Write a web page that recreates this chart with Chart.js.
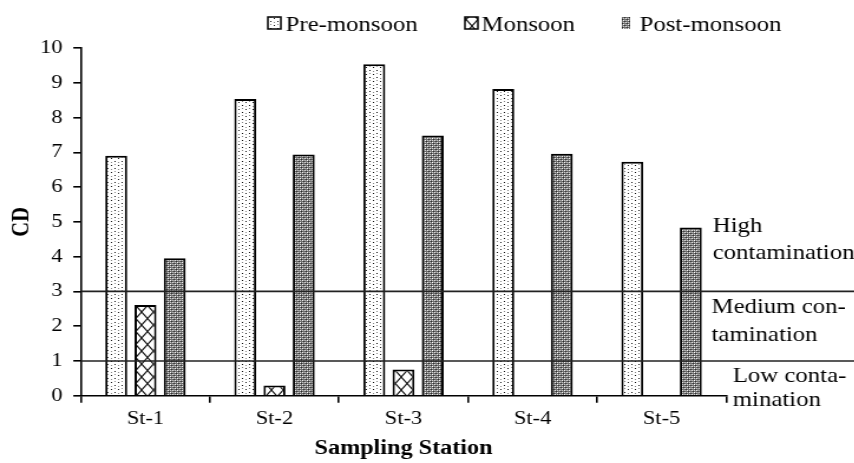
<!DOCTYPE html>
<html>
<head>
<meta charset="utf-8">
<script src="https://cdn.jsdelivr.net/npm/chart.js@4.4.1/dist/chart.umd.min.js"></script>
<style>
  html, body { margin: 0; padding: 0; background: #fff; overflow: hidden; }
  /* the source figure is stretched horizontally, so draw narrow and stretch */
  #wrap { position: relative; width: 724px; height: 463px; transform: scaleX(1.18); transform-origin: 0 0; }
</style>
</head>
<body>
<div id="wrap"><canvas id="chart"></canvas></div>
<script>
// ---- data ----
const stations = ["St-1", "St-2", "St-3", "St-4", "St-5"];
const seriesNames = ["Pre-monsoon", "Monsoon", "Post-monsoon"];
const preMonsoon = [6.90, 8.53, 9.53, 8.82, 6.73];
const monsoon = [2.61, 0.29, 0.75, null, null];
const postMonsoon = [3.95, 6.94, 7.48, 6.96, 4.84];
const yTicks = [0, 1, 2, 3, 4, 5, 6, 7, 8, 9, 10];
const limits = [1, 3];
const zoneLabels = [
  ["High", "contamination"],
  ["Medium con-", "tamination"],
  ["Low conta-", "mination"],
];

const FONT = "'Liberation Serif', 'Times New Roman', serif";

// ---- fill patterns ----
function tile(w, h, draw) {
  const c = document.createElement("canvas");
  c.width = w; c.height = h;
  const g = c.getContext("2d");
  draw(g, w, h);
  return document.createElement("canvas").getContext("2d").createPattern(c, "repeat");
}
const dotted = tile(6, 7, (g) => {
  g.fillStyle = "#fff"; g.fillRect(0, 0, 6, 7);
  g.fillStyle = "#111"; g.fillRect(1, 0, 1, 1); g.fillRect(4, 4, 1, 1);
  g.fillStyle = "#888"; g.fillRect(1, 3, 1, 1); g.fillRect(4, 1, 1, 1);
});
const lattice = tile(10, 13, (g, w, h) => {
  g.fillStyle = "#fff"; g.fillRect(0, 0, w, h);
  g.strokeStyle = "#111"; g.lineWidth = 1.1;
  g.beginPath(); g.moveTo(0, 0); g.lineTo(w, h); g.moveTo(w, 0); g.lineTo(0, h); g.stroke();
});
const checker = tile(4, 4, (g) => {
  g.fillStyle = "#6e6e6e"; g.fillRect(0, 0, 4, 4);
  g.fillStyle = "#fff"; g.fillRect(0, 0, 1, 1); g.fillRect(2, 2, 1, 1);
  g.fillStyle = "#d4d4d4"; g.fillRect(2, 0, 1, 1); g.fillRect(0, 2, 1, 1);
  g.fillStyle = "#2a2a2a"; g.fillRect(1, 1, 1, 1); g.fillRect(3, 3, 1, 1);
});
const fills = [dotted, lattice, checker];

// ---- overlay: limit lines, zone text, legend ----
const overlay = {
  id: "overlay",
  afterDatasetsDraw(chart) {
    const { ctx, chartArea: a, scales: { y } } = chart;
    ctx.save();
    ctx.strokeStyle = "#222"; ctx.lineWidth = 1.6;
    limits.forEach((v) => {
      const py = y.getPixelForValue(v);
      ctx.beginPath(); ctx.moveTo(a.left, py); ctx.lineTo(chart.width, py); ctx.stroke();
    });

    ctx.fillStyle = "#000";
    ctx.font = "21px " + FONT;
    ctx.textBaseline = "alphabetic";
    const y3 = y.getPixelForValue(3), y1 = y.getPixelForValue(1), y0 = y.getPixelForValue(0);
    ctx.fillText(zoneLabels[0][0], 604, y3 - 59);
    ctx.fillText(zoneLabels[0][1], 604, y3 - 32);
    ctx.fillText(zoneLabels[1][0], 603, y3 + 22);
    ctx.fillText(zoneLabels[1][1], 603, y3 + 50);
    ctx.fillText(zoneLabels[2][0], 621, y1 + 21);
    ctx.fillText(zoneLabels[2][1], 621, y0 + 10);

    // legend
    const lx = [227, 394, 527], tx = [242, 408, 542];
    chart.data.datasets.forEach((ds, i) => {
      ctx.fillStyle = ds.backgroundColor;
      if (i === 2) {
        ctx.fillRect(lx[i], 17, 7, 12);
      } else {
        ctx.fillRect(lx[i], 17, 11, 12);
        ctx.strokeStyle = "#000"; ctx.lineWidth = 1.5;
        ctx.strokeRect(lx[i], 17, 11, 12);
      }
      ctx.fillStyle = "#000";
      ctx.fillText(ds.label, tx[i], 31);
    });
    ctx.restore();
  },
};

new Chart(document.getElementById("chart"), {
  type: "bar",
  data: {
    labels: stations,
    datasets: [preMonsoon, monsoon, postMonsoon].map((d, i) => ({
      label: seriesNames[i],
      data: d,
      backgroundColor: fills[i],
      borderColor: "#000",
      borderWidth: 2,
      categoryPercentage: 0.68,
      barPercentage: 0.75,
    })),
  },
  options: {
    responsive: true, maintainAspectRatio: false, animation: false,
    devicePixelRatio: 1,
    layout: { padding: { top: 48, right: 108.7, bottom: 0, left: 0 } },
    plugins: { legend: { display: false }, tooltip: { enabled: false } },
    scales: {
      x: {
        grid: { display: true, drawOnChartArea: false, color: "#000", lineWidth: 1.6, tickLength: 7 },
        border: { color: "#000", width: 1.6 },
        ticks: { color: "#000", font: { family: FONT, size: 19 }, padding: 5 },
        title: { display: true, text: "Sampling Station", color: "#000", font: { family: FONT, size: 20.5, weight: "bold" }, padding: { top: 0, bottom: 2 } },
        afterFit: (s) => { s.height = 67.3; },
      },
      y: {
        min: 0, max: 10,
        afterBuildTicks: (s) => { s.ticks = yTicks.map((v) => ({ value: v })); },
        grid: { display: true, drawOnChartArea: false, color: "#000", lineWidth: 1.6, tickLength: 6.5 },
        border: { color: "#000", width: 1.6 },
        ticks: { color: "#000", font: { family: FONT, size: 19 }, padding: 9 },
        title: { display: true, text: "CD", color: "#000", font: { family: FONT, size: 20.5, weight: "bold" }, padding: { top: 6, bottom: 0 } },
        afterFit: (s) => { s.width = 68.6; },
      },
    },
  },
  plugins: [overlay],
});
</script>
</body>
</html>
